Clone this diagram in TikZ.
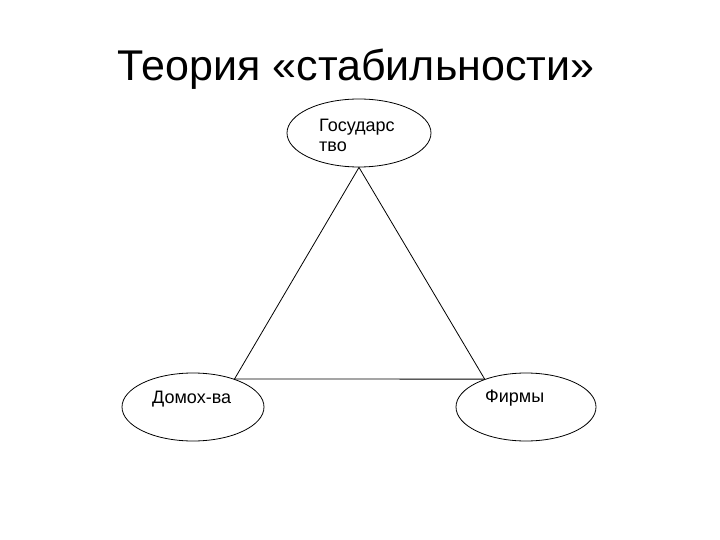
\documentclass[tikz,border=0pt]{standalone}
\usepackage{fontspec}
\setmainfont{Liberation Sans}
\usetikzlibrary{shapes.geometric}
\begin{document}
\begin{tikzpicture}[x=1pt,y=-1pt,
  oval/.style={draw=black, line width=0.8pt, ellipse, inner sep=0pt},
  lbl/.style={inner sep=0pt, font=\fontsize{18}{20}\selectfont, align=left},
  edge/.style={draw=black, line width=0.8pt}]
\useasboundingbox (0,0) rectangle (720,540);
\node[inner sep=0pt, anchor=base, font=\fontsize{43}{48}\selectfont] (title) at (356,81) {Теория «стабильности»};
\node[oval, minimum width=144pt, minimum height=68pt] (t) at (359,133) {};
\node[oval, minimum width=142pt, minimum height=68pt] (l) at (193,407) {};
\node[oval, minimum width=140pt, minimum height=68pt] (r) at (526,407) {};
\node[lbl, anchor=north west] (tl) at (319,119) {Государс\\тво};
\node[lbl, anchor=base west] (ll) at (152,403) {Домох-ва};
\node[lbl, anchor=base west] (rl) at (485,402) {Фирмы};
\draw[edge] (t.south) -- (l.34);
\draw[edge] (l.34) -- (r.146);
\draw[edge] (r.146) -- (t.south);
\end{tikzpicture}
\end{document}
